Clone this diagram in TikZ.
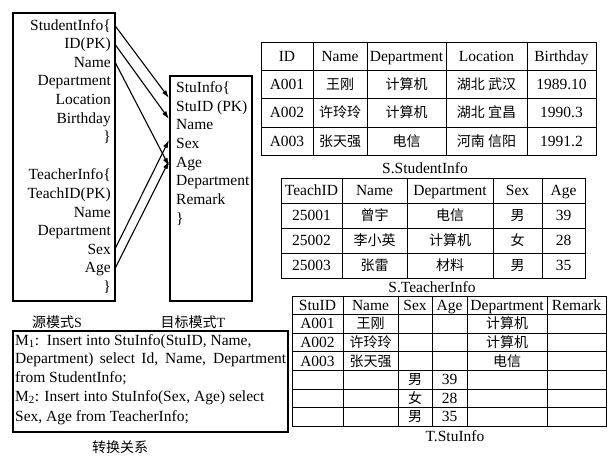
\documentclass[tikz,border=0pt]{standalone}
\usepackage{fontspec}
\setmainfont{Liberation Serif}
\newfontfamily\cjk{Noto Sans CJK SC}
\usetikzlibrary{arrows.meta}
\begin{document}
\begin{tikzpicture}[x=1pt,y=-1pt,
  lat/.style={font=\fontsize{15.5}{18}\selectfont, inner sep=0pt, anchor=base},
  zh/.style={font=\cjk\fontsize{14}{16}\selectfont, inner sep=0pt, anchor=base},
  sitem/.style={font=\fontsize{15.5}{18}\selectfont, inner xsep=4pt, inner ysep=0pt, anchor=base east},
  titem/.style={font=\fontsize{15.5}{18}\selectfont, inner sep=0pt, anchor=base west},
  frame/.style={draw, line width=1.3pt},
  gridline/.style={line width=1pt},
  arr/.style={-{Latex[length=8pt,width=5pt]}, line width=1.1pt}]
\useasboundingbox (0,0) rectangle (609,456);
\fill[white] (0,0) rectangle (609,456);

% source schema S
\draw[frame] (13,13) rectangle (115,301);
\node[sitem] (s1) at (115,30) {StudentInfo\{};
\node[sitem] (s2) at (115,48) {ID(PK)};
\node[sitem] (s3) at (115,67) {Name};
\node[sitem] (s4) at (115,85) {Department};
\node[sitem] (s5) at (115,104) {Location};
\node[sitem] (s6) at (115,123) {Birthday};
\node[sitem] (s7) at (115,141) {\}};
\node[sitem] (s8) at (115,179) {TeacherInfo\{};
\node[sitem] (s9) at (115,198) {TeachID(PK)};
\node[sitem] (s10) at (115,217) {Name};
\node[sitem] (s11) at (115,235) {Department};
\node[sitem] (s12) at (115,254) {Sex};
\node[sitem] (s13) at (115,272) {Age};
\node[sitem] (s14) at (115,291) {\}};

% target schema T
\draw[frame] (170,76) rectangle (252,301);
\node[titem] (t1) at (176,92) {StuInfo\{};
\node[titem] (t2) at (176,111) {StuID (PK)};
\node[titem] (t3) at (176,129) {Name};
\node[titem] (t4) at (176,148) {Sex};
\node[titem] (t5) at (176,167) {Age};
\node[titem] (t6) at (176,185) {Department};
\node[titem] (t7) at (176,204) {Remark};
\node[titem] (t8) at (176,223) {\}};

\coordinate (e1) at (169,98);
\coordinate (e2) at (169,119);
\coordinate (e3) at (169,166);
\coordinate (e4) at (169,140);
\coordinate (e5) at (169,161);
\draw[arr] (s1.east) -- (e1);
\draw[arr] (s2.east) -- (e2);
\draw[arr] (s3.east) -- (e3);
\draw[arr] (s12.east) -- (e4);
\draw[arr] (s13.east) -- (e5);

\node[zh] (lS) at (57,327) {源模式\rmfamily S};
\node[zh] (lT) at (193,327) {目标模式\rmfamily T};

% mapping box
\draw[frame] (13,331) rectangle (288,432);
\node[lat, anchor=base west] (m1) at (15,345) {M\textsubscript{1}:\ \ Insert into StuInfo(StuID, Name,};
\node[lat, anchor=base west] (m2) at (15,363.5) {\makebox[271pt][s]{Department) select Id, Name, Department}};
\node[lat, anchor=base west] (m3) at (15,382) {from StudentInfo;};
\node[lat, anchor=base west] (m4) at (15,401) {M\textsubscript{2}: Insert into StuInfo(Sex, Age) select};
\node[lat, anchor=base west] (m5) at (15,421) {Sex, Age from TeacherInfo;};
\node[zh] (lM) at (120,452) {转换关系};

% S.StudentInfo table
\draw[gridline] (261,42) rectangle (596,155);
\foreach \x in {313,367,446,527} \draw[gridline] (\x,42) -- (\x,155);
\foreach \y in {70,98,127} \draw[gridline] (261,\y) -- (596,\y);
\node[lat] (a11) at (287,61) {ID};
\node[lat] (a12) at (340,61) {Name};
\node[lat] (a13) at (406.5,61) {Department};
\node[lat] (a14) at (486.5,61) {Location};
\node[lat] (a15) at (561.5,61) {Birthday};
\node[lat] (a21) at (287,89) {A001};
\node[zh] (a22) at (340,89) {王刚};
\node[zh] (a23) at (406.5,89) {计算机};
\node[zh] (a24) at (486.5,89) {湖北 武汉};
\node[lat] (a25) at (561.5,89) {1989.10};
\node[lat] (a31) at (287,117.5) {A002};
\node[zh] (a32) at (340,117.5) {许玲玲};
\node[zh] (a33) at (406.5,117.5) {计算机};
\node[zh] (a34) at (486.5,117.5) {湖北 宜昌};
\node[lat] (a35) at (561.5,117.5) {1990.3};
\node[lat] (a41) at (287,146) {A003};
\node[zh] (a42) at (340,146) {张天强};
\node[zh] (a43) at (406.5,146) {电信};
\node[zh] (a44) at (486.5,146) {河南 信阳};
\node[lat] (a45) at (561.5,146) {1991.2};
\node[lat] (capA) at (425,173) {S.StudentInfo};

% S.TeacherInfo table
\draw[gridline] (281,178) rectangle (585,278);
\foreach \x in {342,407,493,542} \draw[gridline] (\x,178) -- (\x,278);
\foreach \y in {203,228,253} \draw[gridline] (281,\y) -- (585,\y);
\node[lat] (b11) at (311.5,195.5) {TeachID};
\node[lat] (b12) at (374.5,195.5) {Name};
\node[lat] (b13) at (450,195.5) {Department};
\node[lat] (b14) at (517.5,195.5) {Sex};
\node[lat] (b15) at (563.5,195.5) {Age};
\node[lat] (b21) at (311.5,220.5) {25001};
\node[zh] (b22) at (374.5,220.5) {曾宇};
\node[zh] (b23) at (450,220.5) {电信};
\node[zh] (b24) at (517.5,220.5) {男};
\node[lat] (b25) at (563.5,220.5) {39};
\node[lat] (b31) at (311.5,245.5) {25002};
\node[zh] (b32) at (374.5,245.5) {李小英};
\node[zh] (b33) at (450,245.5) {计算机};
\node[zh] (b34) at (517.5,245.5) {女};
\node[lat] (b35) at (563.5,245.5) {28};
\node[lat] (b41) at (311.5,270.5) {25003};
\node[zh] (b42) at (374.5,270.5) {张雷};
\node[zh] (b43) at (450,270.5) {材料};
\node[zh] (b44) at (517.5,270.5) {男};
\node[lat] (b45) at (563.5,270.5) {35};
\node[lat] (capB) at (432,292) {S.TeacherInfo};

% T.StuInfo table
\draw[gridline] (292,296) rectangle (606,426.2);
\foreach \x in {343,398,432,467,547} \draw[gridline] (\x,296) -- (\x,426.2);
\foreach \y in {314.6,333.2,351.8,370.4,389,407.6} \draw[gridline] (292,\y) -- (606,\y);
\node[lat] (c11) at (317.5,310.3) {StuID};
\node[lat] (c12) at (370.5,310.3) {Name};
\node[lat] (c13) at (415,310.3) {Sex};
\node[lat] (c14) at (449.5,310.3) {Age};
\node[lat] (c15) at (507,310.3) {Department};
\node[lat] (c16) at (576.5,310.3) {Remark};
\node[lat] (c21) at (317.5,328.9) {A001};
\node[zh] (c22) at (370.5,328.9) {王刚};
\node[zh] (c25) at (507,328.9) {计算机};
\node[lat] (c31) at (317.5,347.5) {A002};
\node[zh] (c32) at (370.5,347.5) {许玲玲};
\node[zh] (c35) at (507,347.5) {计算机};
\node[lat] (c41) at (317.5,366.1) {A003};
\node[zh] (c42) at (370.5,366.1) {张天强};
\node[zh] (c45) at (507,366.1) {电信};
\node[zh] (c53) at (415,384.7) {男};
\node[lat] (c54) at (449.5,384.7) {39};
\node[zh] (c63) at (415,403.3) {女};
\node[lat] (c64) at (449.5,403.3) {28};
\node[zh] (c73) at (415,421.9) {男};
\node[lat] (c74) at (449.5,421.9) {35};
\node[lat] (capC) at (455,441) {T.StuInfo};
\end{tikzpicture}
\end{document}
